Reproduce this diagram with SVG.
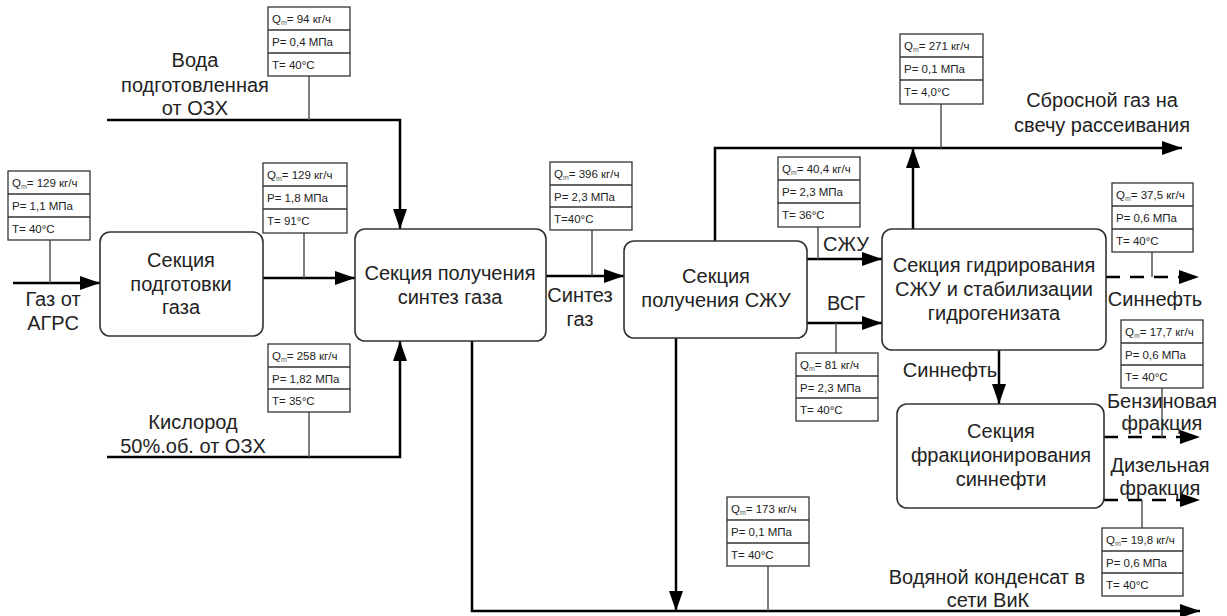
<svg xmlns="http://www.w3.org/2000/svg" width="1227" height="616" viewBox="0 0 1227 616">
<style>
.box{fill:#fff;stroke:#333;stroke-width:1.6}
.lbl{font-family:"Liberation Sans",Arial,sans-serif;font-size:20px;fill:#222;text-anchor:middle}
.tb{fill:#fff;stroke:#333;stroke-width:1.3}
.tt{font-family:"Liberation Sans",Arial,sans-serif;font-size:11.5px;fill:#222}
.sub{font-size:7px;fill:#555}
.ln{fill:none;stroke:#000;stroke-width:2.5}
.ar{fill:none;stroke:#000;stroke-width:2.5;marker-end:url(#ah)}
.da{fill:none;stroke:#000;stroke-width:2.5;stroke-dasharray:14 10;marker-end:url(#ah)}
.tap{fill:none;stroke:#555;stroke-width:1.5}
</style>
<defs>
<marker id="ah" markerUnits="userSpaceOnUse" markerWidth="20" markerHeight="14" refX="20" refY="7" orient="auto">
<path d="M0,0 L20,7 L0,14 z" fill="#000"/>
</marker>
</defs>
<rect width="1227" height="616" fill="#fff"/>

<g id="connectors">
<polyline class="ar" points="107,120 400,120 400,229"/>
<line class="tap" x1="309" y1="76" x2="309" y2="120"/>
<line class="ar" x1="13" y1="283" x2="100" y2="283"/>
<line class="tap" x1="50" y1="240" x2="50" y2="283"/>
<line class="ar" x1="263" y1="278" x2="355" y2="278"/>
<line class="tap" x1="304" y1="233" x2="304" y2="278"/>
<polyline class="ar" points="107,457 400,457 400,341"/>
<line class="tap" x1="309" y1="412" x2="309" y2="457"/>
<line class="ar" x1="546" y1="276" x2="624" y2="276"/>
<line class="tap" x1="592" y1="230" x2="592" y2="276"/>
<polyline class="ar" points="472,341 472,611 1200,611"/>
<line class="ar" x1="676" y1="338" x2="676" y2="611"/>
<line class="tap" x1="768" y1="566" x2="768" y2="611"/>
<polyline class="ar" points="715,241 715,148 1182,148"/>
<line class="ar" x1="913" y1="229" x2="913" y2="148"/>
<line class="tap" x1="941" y1="104" x2="941" y2="148"/>
<line class="ar" x1="807" y1="259" x2="882" y2="259"/>
<line class="tap" x1="818" y1="227" x2="818" y2="259"/>
<line class="ar" x1="807" y1="323" x2="882" y2="323"/>
<line class="tap" x1="836" y1="323" x2="836" y2="353"/>
<line class="da" x1="1106" y1="277" x2="1199" y2="277"/>
<line class="tap" x1="1152" y1="252" x2="1152" y2="277"/>
<line class="ar" x1="999" y1="350" x2="999" y2="404"/>
<line class="da" x1="1104" y1="437" x2="1200" y2="437"/>
<line class="tap" x1="1162" y1="388" x2="1162" y2="437"/>
<line class="da" x1="1104" y1="500" x2="1200" y2="500"/>
<line class="tap" x1="1142" y1="500" x2="1142" y2="528"/>
</g>

<g id="node-prep">
<rect class="box" x="100" y="232" width="163" height="104" rx="10"/>
<text class="lbl" x="181" y="267">Секция</text>
<text class="lbl" x="181" y="291">подготовки</text>
<text class="lbl" x="181" y="314">газа</text>
</g>
<g id="node-syngas">
<rect class="box" x="355" y="229" width="191" height="112" rx="10"/>
<text class="lbl" x="450" y="280">Секция получения</text>
<text class="lbl" x="450" y="304">синтез газа</text>
</g>
<g id="node-szhu">
<rect class="box" x="624" y="241" width="183" height="97" rx="10"/>
<text class="lbl" x="716" y="283">Секция</text>
<text class="lbl" x="716" y="307">получения СЖУ</text>
</g>
<g id="node-hydro">
<rect class="box" x="882" y="229" width="224" height="121" rx="10"/>
<text class="lbl" x="994" y="272">Секция гидрирования</text>
<text class="lbl" x="994" y="296">СЖУ и стабилизации</text>
<text class="lbl" x="994" y="320">гидрогенизата</text>
</g>
<g id="node-frac">
<rect class="box" x="897" y="404" width="207" height="104" rx="10"/>
<text class="lbl" x="1001" y="438">Секция</text>
<text class="lbl" x="1001" y="462">фракционирования</text>
<text class="lbl" x="1001" y="486">синнефти</text>
</g>

<g id="labels">
<text class="lbl" x="195" y="67">Вода</text>
<text class="lbl" x="195" y="92">подготовленная</text>
<text class="lbl" x="195" y="115">от ОЗХ</text>
<text class="lbl" x="53" y="306">Газ от</text>
<text class="lbl" x="53" y="330">АГРС</text>
<text class="lbl" x="193" y="429">Кислород</text>
<text class="lbl" x="193" y="453">50%.об. от ОЗХ</text>
<text class="lbl" x="580" y="302">Синтез</text>
<text class="lbl" x="580" y="326">газ</text>
<text class="lbl" x="846" y="251">СЖУ</text>
<text class="lbl" x="846" y="310">ВСГ</text>
<text class="lbl" x="1102" y="107">Сбросной газ на</text>
<text class="lbl" x="1102" y="132">свечу рассеивания</text>
<text class="lbl" x="1155" y="306">Синнефть</text>
<text class="lbl" x="950" y="377">Синнефть</text>
<text class="lbl" x="1162" y="408">Бензиновая</text>
<text class="lbl" x="1162" y="430">фракция</text>
<text class="lbl" x="1160" y="472">Дизельная</text>
<text class="lbl" x="1160" y="495">фракция</text>
<text class="lbl" x="987" y="584">Водяной конденсат в</text>
<text class="lbl" x="988" y="607">сети ВиК</text>
</g>

<g id="table-water">
<rect class="tb" x="268" y="7" width="82" height="69"/>
<line class="tb" x1="268" y1="30" x2="350" y2="30"/><line class="tb" x1="268" y1="53" x2="350" y2="53"/>
<text class="tt" x="272" y="23">Q<tspan class="sub" dy="2">m</tspan><tspan dy="-2">= 94 кг/ч</tspan></text>
<text class="tt" x="272" y="46">P= 0,4 МПа</text>
<text class="tt" x="272" y="69">T= 40°C</text>
</g>
<g id="table-gas">
<rect class="tb" x="8" y="171" width="82" height="69"/>
<line class="tb" x1="8" y1="194" x2="90" y2="194"/><line class="tb" x1="8" y1="217" x2="90" y2="217"/>
<text class="tt" x="12" y="187">Q<tspan class="sub" dy="2">m</tspan><tspan dy="-2">= 129 кг/ч</tspan></text>
<text class="tt" x="12" y="210">P= 1,1 МПа</text>
<text class="tt" x="12" y="233">T= 40°C</text>
</g>
<g id="table-prepgas">
<rect class="tb" x="263" y="163" width="84" height="70"/>
<line class="tb" x1="263" y1="186" x2="347" y2="186"/><line class="tb" x1="263" y1="209" x2="347" y2="209"/>
<text class="tt" x="267" y="179">Q<tspan class="sub" dy="2">m</tspan><tspan dy="-2">= 129 кг/ч</tspan></text>
<text class="tt" x="267" y="202">P= 1,8 МПа</text>
<text class="tt" x="267" y="225">T= 91°C</text>
</g>
<g id="table-oxygen">
<rect class="tb" x="268" y="344" width="82" height="68"/>
<line class="tb" x1="268" y1="367" x2="350" y2="367"/><line class="tb" x1="268" y1="389" x2="350" y2="389"/>
<text class="tt" x="272" y="360">Q<tspan class="sub" dy="2">m</tspan><tspan dy="-2">= 258 кг/ч</tspan></text>
<text class="tt" x="272" y="383">P= 1,82 МПа</text>
<text class="tt" x="272" y="405">T= 35°C</text>
</g>
<g id="table-syngas">
<rect class="tb" x="550" y="162" width="82" height="68"/>
<line class="tb" x1="550" y1="185" x2="632" y2="185"/><line class="tb" x1="550" y1="207" x2="632" y2="207"/>
<text class="tt" x="554" y="178">Q<tspan class="sub" dy="2">m</tspan><tspan dy="-2">= 396 кг/ч</tspan></text>
<text class="tt" x="554" y="201">P= 2,3 МПа</text>
<text class="tt" x="554" y="223">T=40°C</text>
</g>
<g id="table-szhu">
<rect class="tb" x="778" y="157" width="82" height="70"/>
<line class="tb" x1="778" y1="180" x2="860" y2="180"/><line class="tb" x1="778" y1="203" x2="860" y2="203"/>
<text class="tt" x="782" y="173">Q<tspan class="sub" dy="2">m</tspan><tspan dy="-2">= 40,4 кг/ч</tspan></text>
<text class="tt" x="782" y="196">P= 2,3 МПа</text>
<text class="tt" x="782" y="219">T= 36°C</text>
</g>
<g id="table-vsg">
<rect class="tb" x="796" y="353" width="82" height="68"/>
<line class="tb" x1="796" y1="376" x2="878" y2="376"/><line class="tb" x1="796" y1="398" x2="878" y2="398"/>
<text class="tt" x="800" y="369">Q<tspan class="sub" dy="2">m</tspan><tspan dy="-2">= 81 кг/ч</tspan></text>
<text class="tt" x="800" y="392">P= 2,3 МПа</text>
<text class="tt" x="800" y="414">T= 40°C</text>
</g>
<g id="table-flare">
<rect class="tb" x="900" y="34" width="83" height="70"/>
<line class="tb" x1="900" y1="57" x2="983" y2="57"/><line class="tb" x1="900" y1="80" x2="983" y2="80"/>
<text class="tt" x="904" y="50">Q<tspan class="sub" dy="2">m</tspan><tspan dy="-2">= 271 кг/ч</tspan></text>
<text class="tt" x="904" y="73">P= 0,1 МПа</text>
<text class="tt" x="904" y="96">T= 4,0°C</text>
</g>
<g id="table-synoil">
<rect class="tb" x="1112" y="183" width="81" height="69"/>
<line class="tb" x1="1112" y1="206" x2="1193" y2="206"/><line class="tb" x1="1112" y1="229" x2="1193" y2="229"/>
<text class="tt" x="1116" y="199">Q<tspan class="sub" dy="2">m</tspan><tspan dy="-2">= 37,5 кг/ч</tspan></text>
<text class="tt" x="1116" y="222">P= 0,6 МПа</text>
<text class="tt" x="1116" y="245">T= 40°C</text>
</g>
<g id="table-gasoline">
<rect class="tb" x="1121" y="320" width="82" height="68"/>
<line class="tb" x1="1121" y1="343" x2="1203" y2="343"/><line class="tb" x1="1121" y1="365" x2="1203" y2="365"/>
<text class="tt" x="1125" y="336">Q<tspan class="sub" dy="2">m</tspan><tspan dy="-2">= 17,7 кг/ч</tspan></text>
<text class="tt" x="1125" y="359">P= 0,6 МПа</text>
<text class="tt" x="1125" y="381">T= 40°C</text>
</g>
<g id="table-condensate">
<rect class="tb" x="727" y="497" width="82" height="69"/>
<line class="tb" x1="727" y1="520" x2="809" y2="520"/><line class="tb" x1="727" y1="543" x2="809" y2="543"/>
<text class="tt" x="731" y="513">Q<tspan class="sub" dy="2">m</tspan><tspan dy="-2">= 173 кг/ч</tspan></text>
<text class="tt" x="731" y="536">P= 0,1 МПа</text>
<text class="tt" x="731" y="559">T= 40°C</text>
</g>
<g id="table-diesel">
<rect class="tb" x="1102" y="528" width="81" height="68"/>
<line class="tb" x1="1102" y1="551" x2="1183" y2="551"/><line class="tb" x1="1102" y1="573" x2="1183" y2="573"/>
<text class="tt" x="1106" y="544">Q<tspan class="sub" dy="2">m</tspan><tspan dy="-2">= 19,8 кг/ч</tspan></text>
<text class="tt" x="1106" y="567">P= 0,6 МПа</text>
<text class="tt" x="1106" y="589">T= 40°C</text>
</g>
</svg>
